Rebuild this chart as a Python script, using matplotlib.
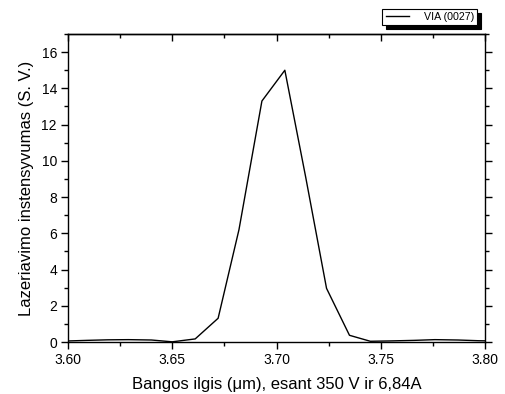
import matplotlib
matplotlib.use("Agg")
import matplotlib.pyplot as plt
from matplotlib.ticker import MultipleLocator, FormatStrFormatter

plt.rcParams['font.family'] = ['Liberation Sans', 'DejaVu Sans']

wavelength = [3.598, 3.609, 3.619, 3.629, 3.640, 3.650, 3.661, 3.672, 3.682, 3.693,
              3.704, 3.714, 3.724, 3.735, 3.745, 3.755, 3.766, 3.776, 3.787, 3.797, 3.808]
intensity = [0.05, 0.09, 0.12, 0.13, 0.11, 0.01, 0.17, 1.31, 6.2, 13.3,
             15.0, 9.1, 2.96, 0.37, 0.04, 0.06, 0.09, 0.13, 0.11, 0.07, 0.05]
series_label = "VIA (0027)"
x_label = "Bangos ilgis (μm), esant 350 V ir 6,84A"
y_label = "Lazeriavimo instensyvumas (S. V.)"

fig = plt.figure(figsize=(5.05, 3.94), dpi=100)
ax = fig.add_axes([68/505, 1-342/394, (485-68)/505, (342-34)/394])
ax.plot(wavelength, intensity, color='black', lw=1.0, label=series_label)
ax.set_xlim(3.60, 3.80)
ax.set_ylim(0, 17)
ax.xaxis.set_major_locator(MultipleLocator(0.05))
ax.xaxis.set_minor_locator(MultipleLocator(0.025))
ax.xaxis.set_major_formatter(FormatStrFormatter('%.2f'))
ax.yaxis.set_major_locator(MultipleLocator(2))
ax.yaxis.set_minor_locator(MultipleLocator(1))
ax.tick_params(axis='both', which='major', length=5, width=1, labelsize=10, direction='out',
               right=True, pad=3)
ax.tick_params(axis='both', which='minor', length=3, width=1, direction='out', right=True)
for s in ax.spines.values():
    s.set_linewidth(1.0)

top = ax.secondary_xaxis('top')
top.xaxis.set_major_locator(MultipleLocator(0.05))
top.xaxis.set_minor_locator(MultipleLocator(0.025))
top.tick_params(which='major', direction='in', length=5, width=1, labeltop=False)
top.tick_params(which='minor', direction='in', length=3, width=1)
top.spines['top'].set_linewidth(1.0)

ax.set_xlabel(x_label, fontsize=12, labelpad=7)
ax.set_ylabel(y_label, fontsize=12, labelpad=5)

leg = ax.legend(loc='upper right', bbox_to_anchor=(477/505, 1-9/394), bbox_transform=fig.transFigure,
                fontsize=7.7, frameon=True, fancybox=False, edgecolor='black', framealpha=1,
                borderpad=0.3, handlelength=2.2, handletextpad=1.35, borderaxespad=0,
                shadow={'color': 'black', 'alpha': 1, 'ox': 2.8, 'oy': -2.8})
leg.get_frame().set_linewidth(0.8)

fig.savefig("out.png", dpi=100)
